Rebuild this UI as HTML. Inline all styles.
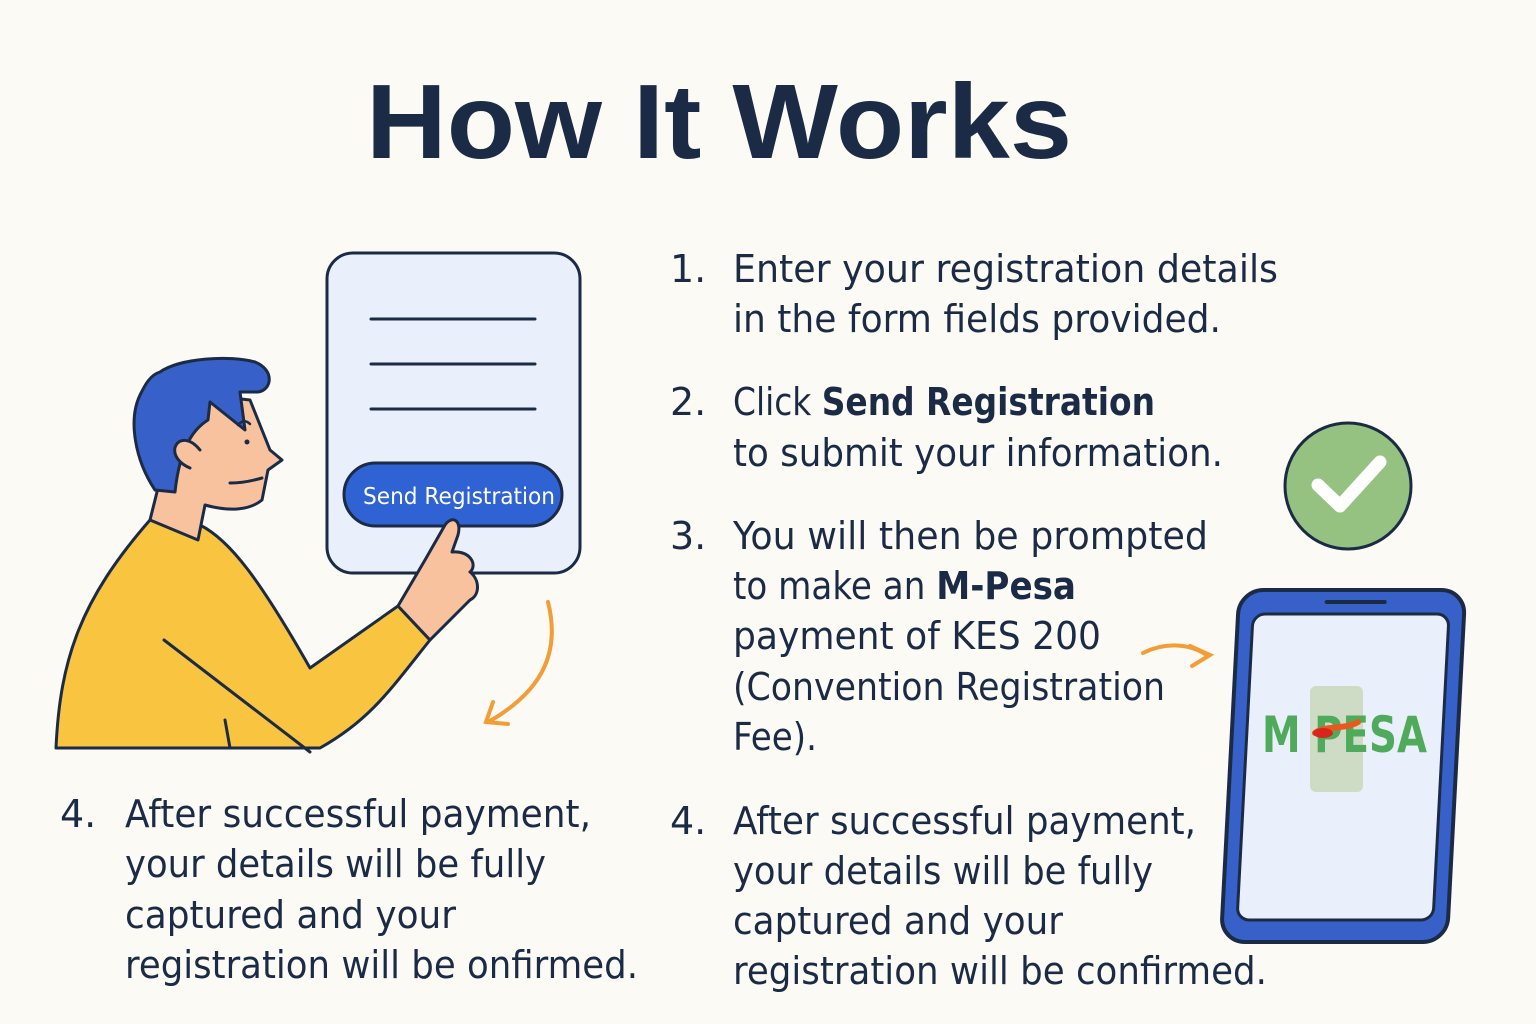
<!DOCTYPE html>
<html><head><meta charset="utf-8"><style>
html,body{margin:0;padding:0;background:#fbfaf5;}
svg{display:block}
text{font-family:"DejaVu Sans","Liberation Sans",sans-serif;fill:#1c2b45;}
</style></head><body>
<svg width="1536" height="1024" viewBox="0 0 1536 1024" xmlns="http://www.w3.org/2000/svg">
<rect width="1536" height="1024" fill="#fbfaf5"/>
<text x="366" y="158" font-size="106" font-weight="bold" textLength="706" lengthAdjust="spacingAndGlyphs" style="font-family:'Liberation Sans',sans-serif">How It Works</text>

<!-- form card -->
<rect x="327" y="253" width="253" height="320" rx="26" fill="#e9f0fc" stroke="#1c2b45" stroke-width="3"/>
<g stroke="#1c2b45" stroke-width="3" stroke-linecap="round">
<line x1="371" y1="319" x2="535" y2="319"/><line x1="371" y1="364" x2="535" y2="364"/><line x1="371" y1="409" x2="535" y2="409"/>
</g>
<rect x="344" y="463" width="218" height="63" rx="31.5" fill="#2f62d3" stroke="#1c2b45" stroke-width="3"/>
<text x="363" y="504" font-size="23" style="fill:#fff" textLength="192" lengthAdjust="spacingAndGlyphs">Send Registration</text>

<!-- person -->
<g stroke="#1c2b45" stroke-width="3" stroke-linejoin="round" stroke-linecap="round">
<path d="M56 748 C60 660 80 600 150 520 L200 525 C230 540 260 580 310 668 L398 606 L430 640 C390 690 370 720 320 748 Z" fill="#f9c440"/>
<path d="M150 520 L165 460 L205 395 L250 400 L270 450 L282 460 L268 470 L262 500 C250 510 230 512 205 505 L198 540 Z" fill="#f8c29e"/>
<path d="M430 640 L398 606 L425 560 L445 525 C452 515 462 520 458 535 L452 552 C470 550 478 565 470 572 C480 580 480 595 470 600 Z" fill="#f8c29e"/>
<path d="M155 490 C135 460 128 420 140 395 C145 385 150 375 160 372 C180 358 230 355 255 362 C275 370 272 390 258 392 L240 392 L245 430 L210 402 L208 420 C195 428 180 445 175 492 Z" fill="#3760c9"/>
<path d="M200 450 C180 425 160 455 190 468" fill="#f8c29e"/>
<path d="M164 640 L310 752" fill="none"/>
<path d="M230 748 L225 720" fill="none"/>
<path d="M238 425 Q244 418 250 424" fill="none" stroke-width="2.5"/>
<path d="M230 483 Q245 483 262 478" fill="none"/>
</g>
<circle cx="247" cy="442" r="2.5" fill="#1c2b45"/>
<path d="M548 602 C560 650 545 690 488 722" fill="none" stroke="#f29d38" stroke-width="4" stroke-linecap="round"/>
<path d="M493 702 L486 722 L508 724" fill="none" stroke="#f29d38" stroke-width="4" stroke-linecap="round"/>

<!-- right text -->
<g font-size="38">
<text x="670" y="282">1.</text><text x="733" y="282" textLength="545" lengthAdjust="spacingAndGlyphs">Enter your registration details</text>
<text x="733" y="332" textLength="488" lengthAdjust="spacingAndGlyphs">in the form fields provided.</text>
<text x="670" y="415">2.</text><text x="733" y="415" textLength="422" lengthAdjust="spacingAndGlyphs">Click <tspan font-weight="bold">Send Registration</tspan></text>
<text x="733" y="466" textLength="490" lengthAdjust="spacingAndGlyphs">to submit your information.</text>
<text x="670" y="549">3.</text><text x="733" y="549" textLength="475" lengthAdjust="spacingAndGlyphs">You will then be prompted</text>
<text x="733" y="599" textLength="343" lengthAdjust="spacingAndGlyphs">to make an <tspan font-weight="bold">M-Pesa</tspan></text>
<text x="733" y="649" textLength="368" lengthAdjust="spacingAndGlyphs">payment of KES 200</text>
<text x="733" y="700" textLength="432" lengthAdjust="spacingAndGlyphs">(Convention Registration</text>
<text x="733" y="750" textLength="84" lengthAdjust="spacingAndGlyphs">Fee).</text>
<text x="670" y="834">4.</text><text x="733" y="834" textLength="463" lengthAdjust="spacingAndGlyphs">After successful payment,</text>
<text x="733" y="884" textLength="420" lengthAdjust="spacingAndGlyphs">your details will be fully</text>
<text x="733" y="934" textLength="330" lengthAdjust="spacingAndGlyphs">captured and your</text>
<text x="733" y="984" textLength="534" lengthAdjust="spacingAndGlyphs">registration will be confirmed.</text>
<text x="60" y="827">4.</text><text x="125" y="827" textLength="466" lengthAdjust="spacingAndGlyphs">After successful payment,</text>
<text x="125" y="877" textLength="421" lengthAdjust="spacingAndGlyphs">your details will be fully</text>
<text x="125" y="928" textLength="331" lengthAdjust="spacingAndGlyphs">captured and your</text>
<text x="125" y="978" textLength="513" lengthAdjust="spacingAndGlyphs">registration will be onfirmed.</text>
</g>

<!-- check circle -->
<circle cx="1348" cy="486" r="63" fill="#95c280" stroke="#1c2b45" stroke-width="3"/>
<path d="M1318 485 L1340 506 L1380 462" fill="none" stroke="#fff" stroke-width="13" stroke-linecap="round" stroke-linejoin="round"/>

<path d="M1143 653 C1165 642 1190 643 1208 656" fill="none" stroke="#f29d38" stroke-width="4" stroke-linecap="round"/>
<path d="M1190 646 L1210 655 L1192 666" fill="none" stroke="#f29d38" stroke-width="4" stroke-linecap="round"/>

<!-- phone -->
<g transform="translate(0 768) skewX(-3) translate(0 -768)">
<rect x="1230" y="590" width="226" height="352" rx="24" fill="#3760c9" stroke="#1c2b45" stroke-width="4"/>
<rect x="1245" y="614" width="196" height="306" rx="12" fill="#e9f0fc" stroke="#1c2b45" stroke-width="3"/>
<line x1="1318" y1="602" x2="1376" y2="602" stroke="#1c2b45" stroke-width="4" stroke-linecap="round"/>
</g>
<rect x="1310" y="686" width="53" height="106" rx="6" fill="#cfdcc5"/>
<text x="1262" y="752" font-size="50" font-weight="bold" style="fill:#4faa5c" textLength="165" lengthAdjust="spacingAndGlyphs">M PESA</text>
<path d="M1315 733 C1325 725 1345 730 1358 722" fill="none" stroke="#e8591f" stroke-width="6" stroke-linecap="round"/>
<ellipse cx="1323" cy="733" rx="10" ry="5" fill="#d7261e"/>
</svg>
</body></html>
